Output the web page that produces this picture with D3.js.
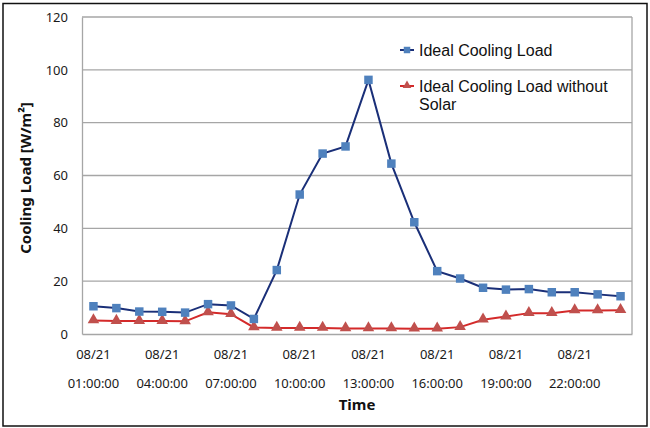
<!DOCTYPE html>
<html><head><meta charset="utf-8">
<script src="https://cdn.jsdelivr.net/npm/d3@7"></script>
<style>body{margin:0;background:#fff}svg{display:block}</style>
</head><body>
<svg id="c" width="650" height="428"></svg>
<script>
const categories = ["01","02","03","04","05","06","07","08","09","10","11","12","13","14","15","16","17","18","19","20","21","22","23","24"].map(h => "08/21 " + h + ":00:00");
const tickLabels = ["08/21 01:00:00","08/21 04:00:00","08/21 07:00:00","08/21 10:00:00","08/21 13:00:00","08/21 16:00:00","08/21 19:00:00","08/21 22:00:00"];
const idealLoad = [10.5,9.8,8.5,8.4,8.1,11.3,10.8,5.7,24.2,52.8,68.3,71.0,96.2,64.5,42.3,23.8,21.0,17.5,16.8,17.0,15.8,15.8,15.0,14.3];
const idealNoSolar = [5.1,4.9,4.9,4.9,4.8,8.2,7.5,2.5,2.3,2.3,2.3,2.1,2.1,2.1,2.0,2.0,2.6,5.4,6.6,7.9,7.9,8.9,8.9,9.0];
const yTicks = [0,20,40,60,80,100,120];
const seriesNames = ["Ideal Cooling Load","Ideal Cooling Load without Solar"];

const svg = d3.select("#c");
const L = 82, R = 632, T = 17, B = 334;
const x = d3.scaleBand().domain(categories).range([L, R]);
const y = d3.scaleLinear().domain([0,120]).range([B, T]);
const cx = d => x(d) + x.bandwidth()/2;

// outer frame
svg.append("rect").attr("x",3).attr("y",3.5).attr("width",644).attr("height",422.5)
  .attr("fill","none").attr("stroke","#111").attr("stroke-width",1.5);

// gridlines
svg.append("g").selectAll("line").data(yTicks.filter(v=>v>0)).join("line")
  .attr("x1",L).attr("x2",R).attr("y1",d=>y(d)).attr("y2",d=>y(d))
  .attr("stroke","#a6a6a6").attr("stroke-width",1.3);
svg.append("line").attr("x1",R).attr("x2",R).attr("y1",T).attr("y2",B).attr("stroke","#a6a6a6").attr("stroke-width",1.3);

// y axis
const ya = svg.append("g").attr("transform",`translate(${L},0)`)
  .call(d3.axisLeft(y).tickValues(yTicks).tickSize(0).tickPadding(14));
ya.select(".domain").attr("stroke","#a6a6a6").attr("stroke-width",1.3);
ya.selectAll("text").attr("font-family","'Noto Sans'").attr("font-size",13).attr("fill","#1a1a1a");

// x axis
const xa = svg.append("g").attr("transform",`translate(0,${B})`)
  .call(d3.axisBottom(x).tickValues(tickLabels).tickSize(0).tickFormat(()=>""));
xa.select(".domain").attr("stroke","#a6a6a6").attr("stroke-width",1.3);
xa.selectAll(".tick").each(function(d){
  const g = d3.select(this);
  const parts = d.split(" ");
  g.append("text").attr("y",25).attr("text-anchor","middle").attr("font-family","'Noto Sans'").attr("font-size",13).attr("fill","#1a1a1a").text(parts[0]);
  g.append("text").attr("y",54).attr("text-anchor","middle").attr("font-family","'Noto Sans'").attr("font-size",13).attr("fill","#1a1a1a").text(parts[1]);
});

// axis titles
svg.append("text").attr("x",357).attr("y",410).attr("text-anchor","middle")
  .attr("font-family","'Noto Sans'").attr("font-weight","bold").attr("font-size",15).attr("fill","#111").text("Time");
svg.append("text").attr("transform","translate(31,178) rotate(-90)").attr("text-anchor","middle")
  .attr("font-family","'Noto Sans'").attr("font-weight","bold").attr("font-size",15).attr("fill","#111")
  .text("Cooling Load [W/m²]");

const line = d3.line().x((d,i)=>cx(categories[i])).y(d=>y(d));
svg.append("path").datum(idealLoad).attr("d",line).attr("fill","none").attr("stroke","#1a2f78").attr("stroke-width",2);
svg.append("path").datum(idealNoSolar).attr("d",line).attr("fill","none").attr("stroke","#d42a2a").attr("stroke-width",2);

const sq = d3.symbol().type(d3.symbolSquare).size(72);
const tri = d3.symbol().type(d3.symbolTriangle).size(58);
svg.append("g").selectAll("path").data(idealNoSolar).join("path")
  .attr("d",tri).attr("transform",(d,i)=>`translate(${cx(categories[i])},${y(d)-0.5})`).attr("fill","#c0504d");
svg.append("g").selectAll("path").data(idealLoad).join("path")
  .attr("d",sq).attr("transform",(d,i)=>`translate(${cx(categories[i])},${y(d)})`).attr("fill","#4f81bd");

// legend
const lg = svg.append("g").attr("font-family","'Liberation Sans', Arial").attr("font-size",16).attr("fill","#111");
lg.append("line").attr("x1",400).attr("x2",414).attr("y1",50).attr("y2",50).attr("stroke","#1a2f78").attr("stroke-width",2);
lg.append("path").attr("d",d3.symbol().type(d3.symbolSquare).size(42)).attr("transform","translate(407,50)").attr("fill","#4f81bd");
lg.append("text").attr("x",419).attr("y",56).text(seriesNames[0]);
lg.append("line").attr("x1",400).attr("x2",414).attr("y1",86).attr("y2",86).attr("stroke","#d42a2a").attr("stroke-width",2);
lg.append("path").attr("d",d3.symbol().type(d3.symbolTriangle).size(32)).attr("transform","translate(407,85.5)").attr("fill","#c0504d");
lg.append("text").attr("x",419).attr("y",92).text("Ideal Cooling Load without");
lg.append("text").attr("x",419).attr("y",110).text("Solar");
</script>
</body></html>
